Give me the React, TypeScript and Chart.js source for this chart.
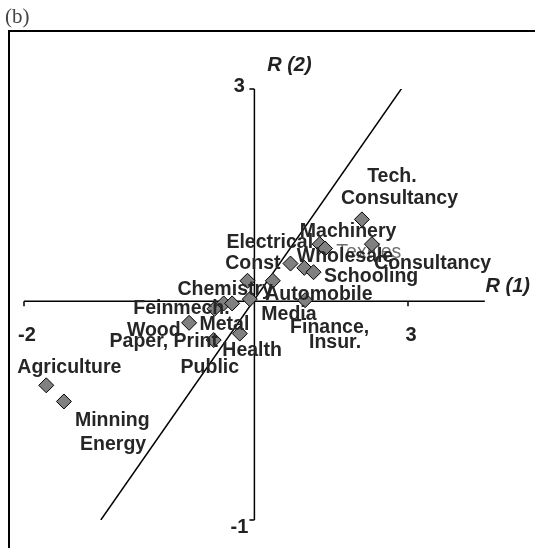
import { useEffect, useRef } from "react";
import { Chart, registerables } from "chart.js";

Chart.register(...registerables);

// Sector positions on the two components R(1), R(2)
const R1_VALUES = [-1.71, -1.48, 0.15, 0.47, 0.81, 0.48, 0.6, 0.71, 0.94, 0.91, 1.24, 1.66, 1.47, 1.65, 1.77, 1.85, 1.92, 2.53, 2.4];
const R2_VALUES = [0.25, 0.1, 0.83, 0.67, 0.73, 0.96, 1.01, 1.01, 1.05, 1.22, 1.22, 1.04, 1.38, 1.34, 1.3, 1.56, 1.52, 1.56, 1.79];

// Reference diagonal
const DIAG_X = [-1, 3];
const DIAG_Y = [-1, 3.09];

// Axis ranges, crossing point and labelled ticks
const X_RANGE = [-2, 4];
const Y_RANGE = [-1, 3];
const CROSS_X = 1;
const CROSS_Y = 1.03;
const X_TICKS = [-2, 3];
const Y_TICKS = [-1, 3];

// Sector names, anchored at their centres in data units
const SECTOR_NAMES = [
  "Tech.", "Consultancy", "Machinery", "Electrical", "Const", "Wholesale",
  "Consultancy", "Schooling", "Chemistry", "Automobile", "Feinmech.", "Media",
  "Wood", "Metal", "Finance,", "Insur.", "Paper, Print", "Health", "Public",
  "Agriculture", "Minning", "Energy",
];
const NAME_X = [2.79, 2.89, 2.22, 1.2, 0.98, 2.18, 3.32, 2.52, 0.62, 1.84, 0.05, 1.45, -0.31, 0.61, 1.98, 2.05, -0.18, 0.97, 0.42, -1.41, -0.85, -0.84];
const NAME_Y = [2.19, 1.98, 1.68, 1.57, 1.38, 1.44, 1.38, 1.26, 1.14, 1.09, 0.96, 0.91, 0.76, 0.81, 0.79, 0.65, 0.66, 0.57, 0.41, 0.41, -0.08, -0.3];

// Faint label sitting behind the others
const FAINT_NAME = "Textiles";
const FAINT_X = 2.49;
const FAINT_Y = 1.48;

const LABEL_FONT = "bold 19.5px 'Liberation Sans', Arial, sans-serif";
const TICK_FONT = "bold 20px 'Liberation Sans', Arial, sans-serif";
const TITLE_FONT = "italic bold 20px 'Liberation Sans', Arial, sans-serif";

const framePlugin = {
  id: "frame",
  beforeDraw(chart: any) {
    const ctx = chart.ctx;
    ctx.save();
    ctx.fillStyle = "#ffffff";
    ctx.fillRect(0, 0, chart.width, chart.height);
    ctx.strokeStyle = "#000";
    ctx.lineWidth = 2;
    ctx.strokeRect(9, 31, chart.width + 20, chart.height + 20);
    ctx.fillStyle = "#444";
    ctx.font = "21px 'Liberation Serif', 'Times New Roman', serif";
    ctx.textAlign = "left";
    ctx.textBaseline = "alphabetic";
    ctx.fillText("(b)", 5, 23);
    ctx.restore();
  },
};

const axesPlugin = {
  id: "crossAxes",
  beforeDatasetsDraw(chart: any) {
    const ctx = chart.ctx;
    const xs = chart.scales.x;
    const ys = chart.scales.y;
    const ax = xs.getPixelForValue(CROSS_X);
    const ay = ys.getPixelForValue(CROSS_Y);
    ctx.save();
    ctx.strokeStyle = "#000";
    ctx.lineWidth = 1.5;
    ctx.beginPath();
    ctx.moveTo(xs.getPixelForValue(X_RANGE[0]), ay);
    ctx.lineTo(xs.getPixelForValue(X_RANGE[1]), ay);
    ctx.moveTo(ax, ys.getPixelForValue(Y_RANGE[0]));
    ctx.lineTo(ax, ys.getPixelForValue(Y_RANGE[1]));
    X_TICKS.forEach((v) => {
      const px = xs.getPixelForValue(v);
      ctx.moveTo(px, ay);
      ctx.lineTo(px, ay + 5);
    });
    Y_TICKS.forEach((v) => {
      const py = ys.getPixelForValue(v);
      ctx.moveTo(ax, py);
      ctx.lineTo(ax - 5, py);
    });
    ctx.stroke();

    ctx.fillStyle = "#222";
    ctx.font = TICK_FONT;
    ctx.textAlign = "center";
    ctx.textBaseline = "middle";
    X_TICKS.forEach((v) => {
      const px = xs.getPixelForValue(v);
      ctx.fillText(String(v), px + 3, ay + 34);
    });
    Y_TICKS.forEach((v) => {
      const py = ys.getPixelForValue(v);
      ctx.fillText(String(v), ax - 15, py + (v < CROSS_Y ? 7 : -3));
    });

    ctx.font = TITLE_FONT;
    ctx.fillText("R (2)", ax + 35, ys.getPixelForValue(Y_RANGE[1]) - 24);
    ctx.fillText("R (1)", xs.getPixelForValue(X_RANGE[1]) + 23, ay - 15);

    ctx.fillStyle = "#6e6e6e";
    ctx.font = "19.5px 'Liberation Sans', Arial, sans-serif";
    ctx.fillText(FAINT_NAME, xs.getPixelForValue(FAINT_X), ys.getPixelForValue(FAINT_Y));
    ctx.restore();
  },
  afterDatasetsDraw(chart: any) {
    const ctx = chart.ctx;
    const xs = chart.scales.x;
    const ys = chart.scales.y;
    ctx.save();
    ctx.fillStyle = "#262626";
    ctx.font = LABEL_FONT;
    ctx.textAlign = "center";
    ctx.textBaseline = "middle";
    SECTOR_NAMES.forEach((name, i) => {
      ctx.fillText(name, xs.getPixelForValue(NAME_X[i]), ys.getPixelForValue(NAME_Y[i]));
    });
    ctx.restore();
  },
};

export default function App() {
  const canvasRef = useRef<HTMLCanvasElement | null>(null);

  useEffect(() => {
    if (!canvasRef.current) return;
    const chart = new Chart(canvasRef.current, {
      type: "scatter",
      data: {
        datasets: [
          {
            data: DIAG_X.map((x, i) => ({ x, y: DIAG_Y[i] })),
            showLine: true,
            borderColor: "#000",
            borderWidth: 1.5,
            pointRadius: 0,
            order: 2,
          },
          {
            data: R1_VALUES.map((x, i) => ({ x, y: R2_VALUES[i] })),
            pointStyle: "rectRot",
            pointRadius: 7.5,
            pointBackgroundColor: "#808080",
            pointBorderColor: "#000",
            pointBorderWidth: 1,
            order: 1,
          },
        ],
      },
      options: {
        animation: false,
        responsive: false,
        layout: { padding: { left: 24, right: 50.2, top: 89, bottom: 28 } },
        plugins: { legend: { display: false }, tooltip: { enabled: false } },
        scales: {
          x: { type: "linear", display: false, min: X_RANGE[0], max: X_RANGE[1] },
          y: { type: "linear", display: false, min: Y_RANGE[0], max: Y_RANGE[1] },
        },
      },
      plugins: [framePlugin, axesPlugin],
    });
    return () => chart.destroy();
  }, []);

  return (
    <div style={{ position: "fixed", left: 0, top: 0, width: 535, height: 548 }}>
      <canvas ref={canvasRef} width={535} height={548} style={{ display: "block" }} />
    </div>
  );
}
